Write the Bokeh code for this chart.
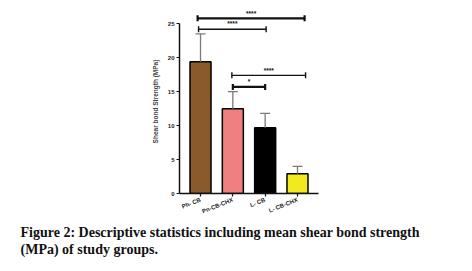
import math
from bokeh.plotting import figure
from bokeh.models import ColumnDataSource, FactorRange, Range1d, FixedTicker, Title
from bokeh.embed import file_html
from bokeh.resources import INLINE
from bokeh.core.properties import value

# ---- data ----
groups = ["Ph- CB", "Pn-CB-CHX", "L- CB", "L- CB-CHX"]
means = [19.4, 12.5, 9.7, 2.9]
sds = [4.1, 2.5, 2.1, 1.1]
colors = ["#8B5A2B", "#F08080", "#000000", "#F2EA1C"]
y_ticks = [0, 5, 10, 15, 20, 25]

comp_from = ["Ph- CB", "Ph- CB", "Pn-CB-CHX", "Pn-CB-CHX"]
comp_to = ["L- CB-CHX", "L- CB", "L- CB-CHX", "L- CB"]
comp_y = [25.8, 24.2, 17.4, 15.7]
comp_label = ["****", "****", "****", "*"]

caption_1 = "Figure 2: Descriptive statistics including mean shear bond strength"
caption_2 = "(MPa) of study groups."

# ---- styles ----
bracket_width = [2.2, 1.4, 1.4, 2.2]
bracket_left_off = [-0.09, -0.06, -0.03, 0.0]
bracket_right_off = [0.22, 0.03, 0.25, 0.0]

p = figure(x_range=FactorRange(*groups, range_padding=0.075),
           y_range=Range1d(0, 27.1),
           frame_width=139, frame_height=184, output_backend="svg", toolbar_location=None,
           min_border_left=179, min_border_right=154, min_border_top=9,
           min_border_bottom=78)
p.outline_line_color = None
p.xgrid.visible = False
p.ygrid.visible = False
p.background_fill_color = "white"
p.border_fill_color = "white"

src = ColumnDataSource(dict(g=groups, m=means, top=[m + s for m, s in zip(means, sds)], c=colors))
p.vbar(x="g", top="m", bottom=0, width=0.65, source=src, fill_color="c",
       line_color="black", line_width=1.5)
p.segment(x0="g", y0="m", x1="g", y1="top", source=src, line_color="#7a7a7a", line_width=1.3)
p.scatter(x="g", y="top", source=src, marker="dash", size=10, line_color="#7a7a7a", line_width=1.3)

idx = {g: i + 0.5 for i, g in enumerate(groups)}
bx0 = [idx[a] + o for a, o in zip(comp_from, bracket_left_off)]
bx1 = [idx[b] + o for b, o in zip(comp_to, bracket_right_off)]
bsrc = ColumnDataSource(dict(x0=bx0, x1=bx1, y=comp_y, w=bracket_width,
                             xm=[(a + b) / 2 for a, b in zip(bx0, bx1)],
                             ty=[y + 0.25 for y in comp_y], lab=comp_label))
p.segment(x0="x0", y0="y", x1="x1", y1="y", source=bsrc, line_color="#111111", line_width="w")
p.scatter(x="x0", y="y", source=bsrc, marker="dash", angle=math.pi / 2, size=6,
          line_color="#111111", line_width="w")
p.scatter(x="x1", y="y", source=bsrc, marker="dash", angle=math.pi / 2, size=6,
          line_color="#111111", line_width="w")
p.text(x="xm", y="ty", text="lab", source=bsrc, text_align="center", text_baseline="bottom",
       text_font=value("Liberation Sans"), text_font_size="6.5px", text_font_style="bold",
       text_color="#111111")

# axes
p.yaxis.bounds = (0, 25)
p.yaxis.ticker = FixedTicker(ticks=y_ticks)
p.yaxis.axis_label = "Shear bond Strength (MPa)"
p.yaxis.axis_label_text_font = "Liberation Sans"
p.yaxis.axis_label_text_font_size = "6.5px"
p.yaxis.axis_label_text_font_style = "bold"
p.yaxis.axis_label_standoff = 6
for ax in (p.xaxis, p.yaxis):
    ax.axis_line_width = 1.5
    ax.axis_line_color = "#111111"
    ax.major_tick_line_color = "#111111"
    ax.major_tick_line_width = 1.2
    ax.major_tick_out = 3
    ax.major_tick_in = 0
    ax.minor_tick_line_color = None
    ax.major_label_text_font = "Liberation Sans"
    ax.major_label_text_font_size = "6px"
    ax.major_label_text_font_style = "bold"
    ax.major_label_text_color = "#222222"
p.yaxis.major_label_standoff = 2
p.xaxis.major_label_orientation = 0.38
p.xaxis.major_label_standoff = 3

# caption
for i, txt in enumerate((caption_1, caption_2)):
    p.add_layout(Title(text=txt, align="left", offset=-159, standoff=(5 if i == 0 else -5),
                       text_font="Liberation Serif", text_font_style="bold",
                       text_font_size="14px", text_color="#111111"), "below")

open("out.html", "w").write(file_html(p, INLINE))
